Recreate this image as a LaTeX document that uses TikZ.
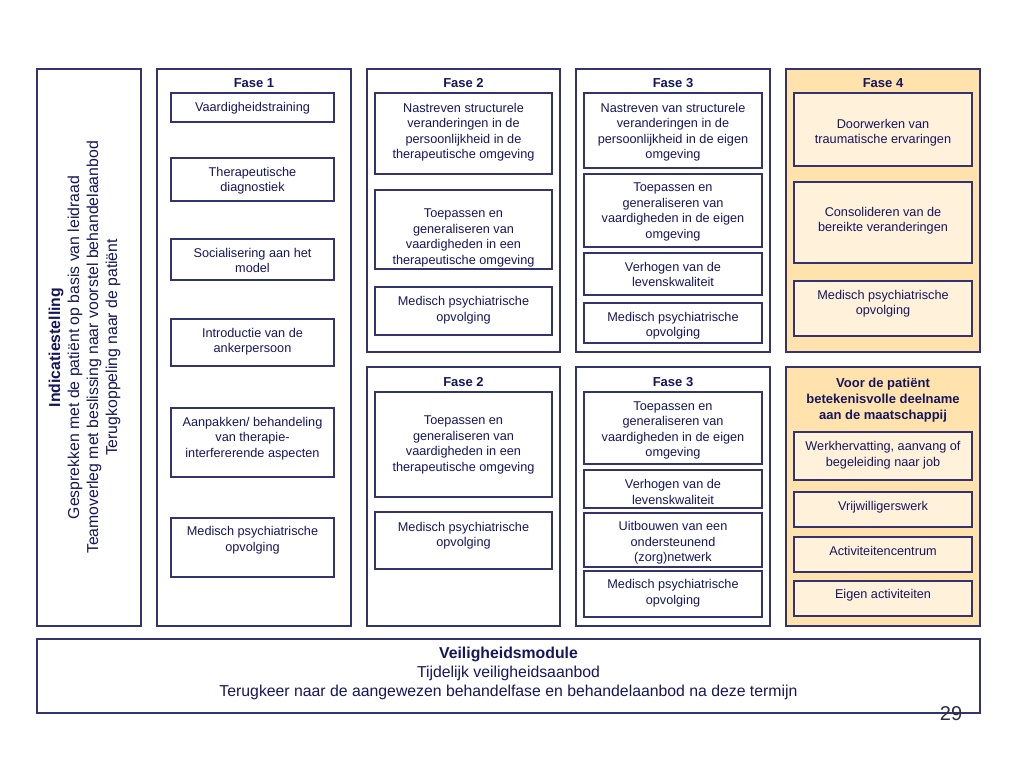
\documentclass[tikz,border=0pt]{standalone}
\usepackage{fontspec}
\setmainfont{Liberation Sans}
\usepackage{tikz}
\definecolor{navyline}{RGB}{51,51,112}
\definecolor{navytext}{RGB}{22,22,92}
\definecolor{paginagrey}{RGB}{45,45,65}
\definecolor{faseorange}{RGB}{255,226,172}
\definecolor{faselight}{RGB}{255,241,218}

\begin{document}
\begin{tikzpicture}[x=1pt,y=-1pt,
  colbox/.style={draw=navyline,line width=1.2pt},
  inbox/.style={draw=navyline,line width=1.2pt},
  boxtext/.style={text=navytext,font=\fontsize{12.7}{15.5}\selectfont,align=center,anchor=north,inner sep=0pt},
  fasetitle/.style={text=navytext,font=\fontsize{13}{16}\selectfont\bfseries,align=center,inner sep=0pt},
  bigtext/.style={text=navytext,font=\fontsize{15.8}{19}\selectfont,align=center,inner sep=0pt}]
				% page frame
				\useasboundingbox[fill=white] (0,0) rectangle (1024,768);
				
				% Indicatiestelling, written upwards
				\draw[colbox] (37,69) rectangle (141,626);
				\node[bigtext,rotate=90] (indicatie) at (84.5,347.5) {\textbf{Indicatiestelling}\\Gesprekken met de patiënt op basis van leidraad\\Teamoverleg met beslissing naar voorstel behandelaanbod\\Terugkoppeling naar de patiënt};
				
				% Fase 1 column
				\draw[colbox] (157,69) rectangle (351,626);
				\node[fasetitle] (fase1) at (254,83.5) {Fase 1};
				\draw[inbox] (171,93) rectangle (334,122);
				\node[boxtext] (vaardig) at (252.5,102.3) {Vaardigheidstraining};
				\draw[inbox] (171,158) rectangle (334,201);
				\node[boxtext] (diagnostiek) at (252.5,166.8) {Therapeutische\\diagnostiek};
				\draw[inbox] (171,239) rectangle (334,280);
				\node[boxtext] (socialisering) at (252.5,248) {Socialisering aan het\\model};
				\draw[inbox] (171,319) rectangle (334,366);
				\node[boxtext] (anker) at (252.5,328) {Introductie van de\\ankerpersoon};
				\draw[inbox] (171,408) rectangle (334,477);
				\node[boxtext] (aanpakken) at (252.5,417) {Aanpakken/ behandeling\\van therapie-\\interfererende aspecten};
				\draw[inbox] (171,518) rectangle (334,577);
				\node[boxtext] (medisch1) at (252.5,526.3) {Medisch psychiatrische\\opvolging};
				
				% Fase 2 top
				\draw[colbox] (367,69) rectangle (560,352);
				\node[fasetitle] (fase2a) at (463.5,83.5) {Fase 2};
				\draw[inbox] (375,93) rectangle (552,174);
				\node[boxtext] (nastreven2) at (463.5,102.6) {Nastreven structurele\\veranderingen in de\\persoonlijkheid in de\\therapeutische omgeving};
				\draw[inbox] (375,190) rectangle (552,269);
				\node[boxtext] (toepassen2a) at (463.5,208.6) {Toepassen en\\generaliseren van\\vaardigheden in een\\therapeutische omgeving};
				\draw[inbox] (375,287) rectangle (552,335);
				\node[boxtext] (medisch2a) at (463.5,296.3) {Medisch psychiatrische\\opvolging};
				
				% Fase 3 top
				\draw[colbox] (576,69) rectangle (770,352);
				\node[fasetitle] (fase3a) at (673,83.5) {Fase 3};
				\draw[inbox] (584,93) rectangle (762,168);
				\node[boxtext] (nastreven3) at (673,102.6) {Nastreven van structurele\\veranderingen in de\\persoonlijkheid in de eigen\\omgeving};
				\draw[inbox] (584,174) rectangle (762,247);
				\node[boxtext] (toepassen3a) at (673,183) {Toepassen en\\generaliseren van\\vaardigheden in de eigen\\omgeving};
				\draw[inbox] (584,253) rectangle (762,295);
				\node[boxtext] (levens3a) at (673,262) {Verhogen van de\\levenskwaliteit};
				\draw[inbox] (584,303) rectangle (762,343);
				\node[boxtext] (medisch3a) at (673,312) {Medisch psychiatrische\\opvolging};
				
				% Fase 4, shaded orange
				\draw[colbox,fill=faseorange] (786,69) rectangle (980,352);
				\node[fasetitle] (fase4) at (883,83.5) {Fase 4};
				\draw[inbox,fill=faselight] (794,93) rectangle (972,166);
				\node[boxtext] (trauma) at (883,118.6) {Doorwerken van\\traumatische ervaringen};
				\draw[inbox,fill=faselight] (794,182) rectangle (972,263);
				\node[boxtext] (consolideren) at (883,207) {Consolideren van de\\bereikte veranderingen};
				\draw[inbox,fill=faselight] (794,281) rectangle (972,336);
				\node[boxtext] (medisch4) at (883,289.6) {Medisch psychiatrische\\opvolging};
				
				% Fase 2 bottom
				\draw[colbox] (367,367) rectangle (560,626);
				\node[fasetitle] (fase2b) at (463.5,381.7) {Fase 2};
				\draw[inbox] (375,392) rectangle (552,497);
				\node[boxtext] (toepassen2b) at (463.5,416) {Toepassen en\\generaliseren van\\vaardigheden in een\\therapeutische omgeving};
				\draw[inbox] (375,512) rectangle (552,569);
				\node[boxtext] (medisch2b) at (463.5,522) {Medisch psychiatrische\\opvolging};
				
				% Fase 3 bottom
				\draw[colbox] (576,367) rectangle (770,626);
				\node[fasetitle] (fase3b) at (673,381.7) {Fase 3};
				\draw[inbox] (584,392) rectangle (762,464);
				\node[boxtext] (toepassen3b) at (673,401.3) {Toepassen en\\generaliseren van\\vaardigheden in de eigen\\omgeving};
				\draw[inbox] (584,470) rectangle (762,508);
				\node[boxtext] (levens3b) at (673,479.3) {Verhogen van de\\levenskwaliteit};
				\draw[inbox] (584,513) rectangle (762,567);
				\node[boxtext] (netwerk) at (673,521.3) {Uitbouwen van een\\ondersteunend\\(zorg)netwerk};
				\draw[inbox] (584,571) rectangle (762,617);
				\node[boxtext] (medisch3b) at (673,579.3) {Medisch psychiatrische\\opvolging};
				
				% Maatschappij, shaded orange
				\draw[colbox,fill=faseorange] (786,367) rectangle (980,626);
				\node[fasetitle,anchor=north] (deelname) at (883,377.6) {Voor de patiënt\\betekenisvolle deelname\\aan de maatschappij};
				\draw[inbox,fill=faselight] (794,432) rectangle (972,480);
				\node[boxtext] (job) at (883,441.3) {Werkhervatting, aanvang of\\begeleiding naar job};
				\draw[inbox,fill=faselight] (794,492) rectangle (972,527);
				\node[boxtext] (vrijwillig) at (883,501) {Vrijwilligerswerk};
				\draw[inbox,fill=faselight] (794,537) rectangle (972,572);
				\node[boxtext] (centrum) at (883,546) {Activiteitencentrum};
				\draw[inbox,fill=faselight] (794,581) rectangle (972,616);
				\node[boxtext] (eigen) at (883,588.6) {Eigen activiteiten};
				
				% Veiligheidsmodule along the bottom
				\draw[colbox] (37,639) rectangle (980,713);
				\node[bigtext] (veiligheid) at (508.5,673) {\textbf{Veiligheidsmodule}\\Tijdelijk veiligheidsaanbod\\Terugkeer naar de aangewezen behandelfase en behandelaanbod na deze termijn};
				
				% page number
				\node[text=paginagrey,font=\fontsize{20}{24}\selectfont,inner sep=0pt] (paginanr) at (951,714) {29};
\end{tikzpicture}
\end{document}
